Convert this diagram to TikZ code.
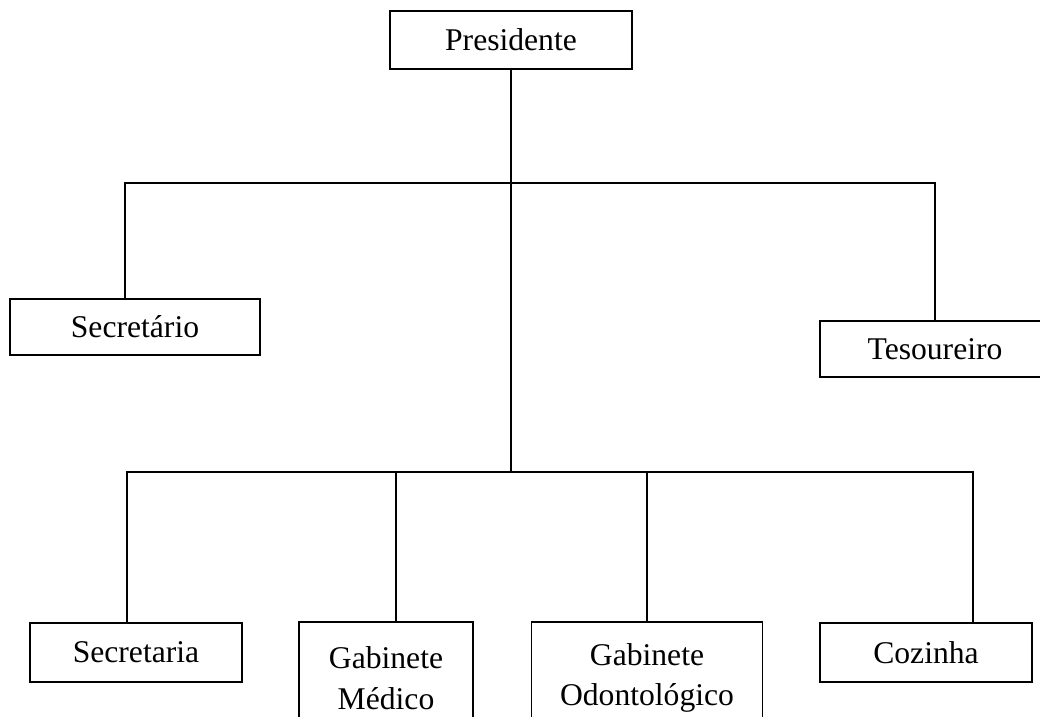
\documentclass[tikz,border=0pt]{standalone}
\usepackage{fontspec}
\setmainfont{Liberation Serif}
\begin{document}
\begin{tikzpicture}[x=0.02cm, y=-0.02cm, line width=1.1pt,
    cargo/.style={draw, line width=1.1pt, inner sep=0pt, align=center,
        font=\fontsize{18}{23}\selectfont}]
    \useasboundingbox (0,0) rectangle (1040,716);
    \clip (0,0) rectangle (1040,716);

    \node[cargo, minimum width=4.84cm, minimum height=1.16cm] (pres) at (511,40) {Presidente};

    \node[cargo, minimum width=5cm, minimum height=1.12cm] (sec) at (135,327) {Secret\'ario};
    \node[cargo, minimum width=4.6cm, minimum height=1.12cm] (tes) at (935,349) {Tesoureiro};

    \node[cargo, minimum width=4.24cm, minimum height=1.18cm] (secr) at (136,652.5) {Secretaria};
    \node[cargo, minimum width=3.48cm, minimum height=2.24cm] (gmed) at (386,678) {Gabinete\\M\'edico};
    \node[cargo, minimum width=4.62cm, minimum height=2.24cm] (godo) at (647,678) {Gabinete\\Odontol\'ogico};
    \node[cargo, minimum width=4.24cm, minimum height=1.18cm] (coz) at (926,652.5) {Cozinha};

    \coordinate (topbus) at (511,183);
    \coordinate (botbus) at (511,472);

    \draw (pres.south) -- (botbus);
    \draw ([xshift=-0.2cm]sec.north) |- (topbus) -| (tes.north);
    \draw ([xshift=-0.18cm]secr.north) |- (botbus);
    \draw ([xshift=0.2cm]gmed.north) |- (botbus);
    \draw (botbus) -| (godo.north);
    \draw (botbus) -| ([xshift=0.94cm]coz.north);

\end{tikzpicture}
\end{document}
